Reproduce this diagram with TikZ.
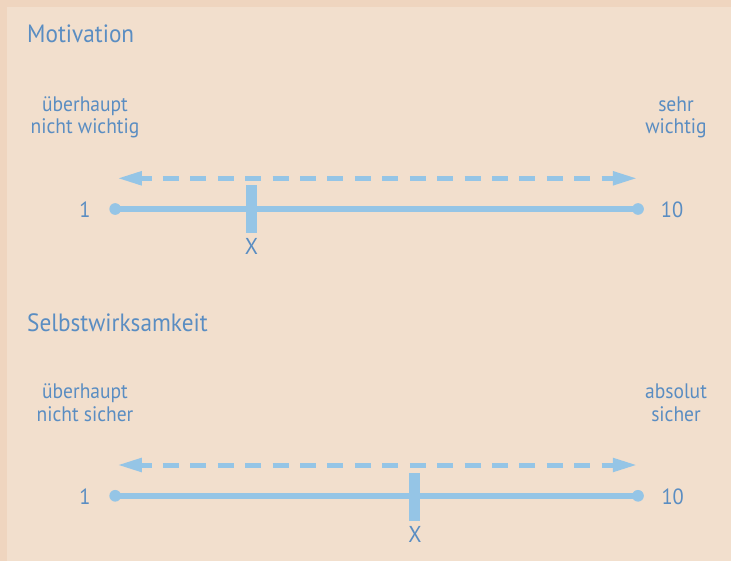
\documentclass[tikz,border=0pt]{standalone}
\usepackage{fontspec}
\setmainfont{PT Sans}[FakeStretch=0.93]
\usetikzlibrary{arrows.meta}
\definecolor{bgout}{HTML}{EFD5BF}
\definecolor{bgin}{HTML}{F2DFCD}
\definecolor{txtblue}{HTML}{5A8DC2}
\definecolor{lineblue}{HTML}{95C5E6}
\begin{document}
\begin{tikzpicture}[x=1pt,y=-1pt,
  titletext/.style={font=\fontsize{25}{30}\selectfont, text=txtblue, anchor=base west, inner sep=0pt},
  lbltext/.style={font=\fontsize{21}{22.5}\selectfont, text=txtblue, align=center, anchor=base, inner sep=0pt},
  numtext/.style={font=\fontsize{22}{26}\selectfont, text=txtblue, anchor=base, inner sep=0pt},
  xtext/.style={font=\fontsize{23}{26}\selectfont, text=txtblue, anchor=base, inner sep=0pt},
  scaleline/.style={line width=6pt, draw=lineblue},
  rangeline/.style={line width=5pt, draw=lineblue, dash pattern=on 16pt off 11.42pt, dash phase=5pt,
     {Triangle[length=24.5pt,width=13pt]}-{Triangle[length=24.5pt,width=13pt]}},
  endpt/.style={circle, fill=lineblue, minimum size=11.7pt, inner sep=0pt},
  tickmark/.style={rectangle, fill=lineblue, minimum width=10.7pt, minimum height=48pt, inner sep=0pt}
]
\useasboundingbox (0,0) rectangle (731,561);
\fill[bgout] (0,0) rectangle (731,561);
\fill[bgin] (7,7) rectangle (731,561);

% ---- Motivation ----
\node[titletext] (t1) at (27,43) {Motivation};
\node[lbltext] (l1) at (85,134) {überhaupt\\nicht wichtig};
\node[lbltext] (r1) at (676,134) {sehr\\wichtig};
\coordinate (a1a) at (117.3,178.3);
\coordinate (a1b) at (637.3,178.3);
\draw[rangeline] (a1a) -- (a1b);
\node[endpt] (p1a) at (115.2,209) {};
\node[endpt] (p1b) at (638,209) {};
\draw[scaleline] (p1a.center) -- (p1b.center);
\node[tickmark] (k1) at (251.5,209) {};
\node[numtext] (n1a) at (85,218) {1};
\node[numtext] (n1b) at (672,218) {10};
\node[xtext] (x1) at (251.5,255) {X};

% ---- Selbstwirksamkeit ----
\node[titletext] (t2) at (27,331.7) {Selbstwirksamkeit};
\node[lbltext] (l2) at (85,421) {überhaupt\\nicht sicher};
\node[lbltext] (r2) at (676,421) {absolut\\sicher};
\coordinate (a2a) at (117.3,465);
\coordinate (a2b) at (637.3,465);
\draw[rangeline] (a2a) -- (a2b);
\node[endpt] (p2a) at (115.2,495.8) {};
\node[endpt] (p2b) at (638,495.8) {};
\draw[scaleline] (p2a.center) -- (p2b.center);
\node[tickmark] (k2) at (414.7,496.7) {};
\node[numtext] (n2a) at (85,504) {1};
\node[numtext] (n2b) at (672.7,504) {10};
\node[xtext] (x2) at (415,542.7) {X};
\end{tikzpicture}
\end{document}
